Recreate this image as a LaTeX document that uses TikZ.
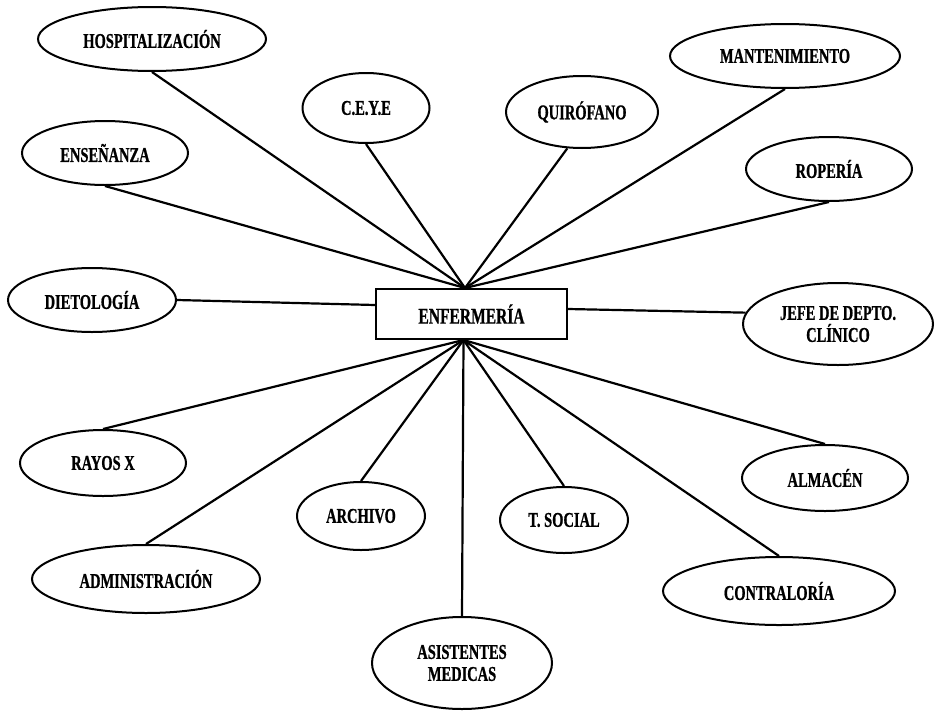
\documentclass[tikz,border=0pt]{standalone}
\usepackage{fontspec}
\usetikzlibrary{shapes.geometric}
\newfontfamily\labfont{Liberation Serif}[UprightFont = * Bold, FakeStretch=0.69, FakeBold=0.8]

\begin{document}
\begin{tikzpicture}[x=1pt, y=-1pt,
  unit/.style={draw, ellipse, line width=2pt, inner sep=0pt,
    font=\labfont\fontsize{21}{22}\selectfont, align=center},
  hub/.style={draw, rectangle, line width=2pt, inner sep=0pt,
    minimum width=191pt, minimum height=50pt,
    font=\labfont\fontsize{22.5}{24}\selectfont},
  link/.style={line width=2.2pt}]

\useasboundingbox (0,0) rectangle (936,712);

% central box
\node[hub] (enf) at (471.5,314) {ENFERMERÍA};
\coordinate (top) at ([xshift=-6.5pt]enf.north);
\coordinate (bot) at ([xshift=-8pt]enf.south);

% upper units
\node[unit, minimum width=228pt, minimum height=64pt] (hosp) at (152,39) {HOSPITALIZACIÓN};
\node[unit, minimum width=166pt, minimum height=64pt] (ense) at (105,153) {ENSEÑANZA};
\node[unit, minimum width=127pt, minimum height=70pt] (ceye) at (366,108) {C.E.Y.E};
\node[unit, minimum width=152pt, minimum height=72pt] (quir) at (582,112) {QUIRÓFANO};
\node[unit, minimum width=230pt, minimum height=64pt] (mant) at (785,56) {MANTENIMIENTO};
\node[unit, minimum width=166pt, minimum height=64pt] (rope) at (829,169) {ROPERÍA};

% side units
\node[unit, minimum width=168pt, minimum height=64pt] (diet) at (92,300) {DIETOLOGÍA};
\node[unit, minimum width=190pt, minimum height=82pt, inner xsep=-14pt, inner ysep=-6pt] (jefe) at (838,324) {JEFE DE DEPTO.\\CLÍNICO};

% lower units
\node[unit, minimum width=166pt, minimum height=66pt] (rayo) at (103,463) {RAYOS X};
\node[unit, minimum width=228pt, minimum height=68pt] (admi) at (146,579) {ADMINISTRACIÓN};
\node[unit, minimum width=128pt, minimum height=68pt] (arch) at (361,516) {ARCHIVO};
\node[unit, minimum width=180pt, minimum height=92pt, inner ysep=-6pt] (asis) at (462,663) {ASISTENTES\\MEDICAS};
\node[unit, minimum width=128pt, minimum height=66pt] (tsoc) at (564,520) {T. SOCIAL};
\node[unit, minimum width=232pt, minimum height=68pt] (cont) at (779,591) {CONTRALORÍA};
\node[unit, minimum width=166pt, minimum height=66pt] (alma) at (825,478) {ALMACÉN};

% connectors to the top of the box
\draw[link] (hosp.south) -- (top);
\draw[link] (ense.south) -- (top);
\draw[link] (ceye.south) -- (top);
\draw[link] (quir.248) -- (top);
\draw[link] (mant.south) -- (top);
\draw[link] (rope.south) -- (top);

% connectors to the sides
\draw[link] (diet.east) -- ([yshift=9pt]enf.west);
\draw[link] (jefe.173) -- ([yshift=5pt]enf.east);

% connectors to the bottom of the box
\draw[link] (rayo.north) -- (bot);
\draw[link] (admi.north) -- (bot);
\draw[link] (arch.north) -- (bot);
\draw[link] (asis.north) -- (bot);
\draw[link] (tsoc.north) -- (bot);
\draw[link] (cont.north) -- (bot);
\draw[link] (alma.north) -- (bot);
\end{tikzpicture}
\end{document}
